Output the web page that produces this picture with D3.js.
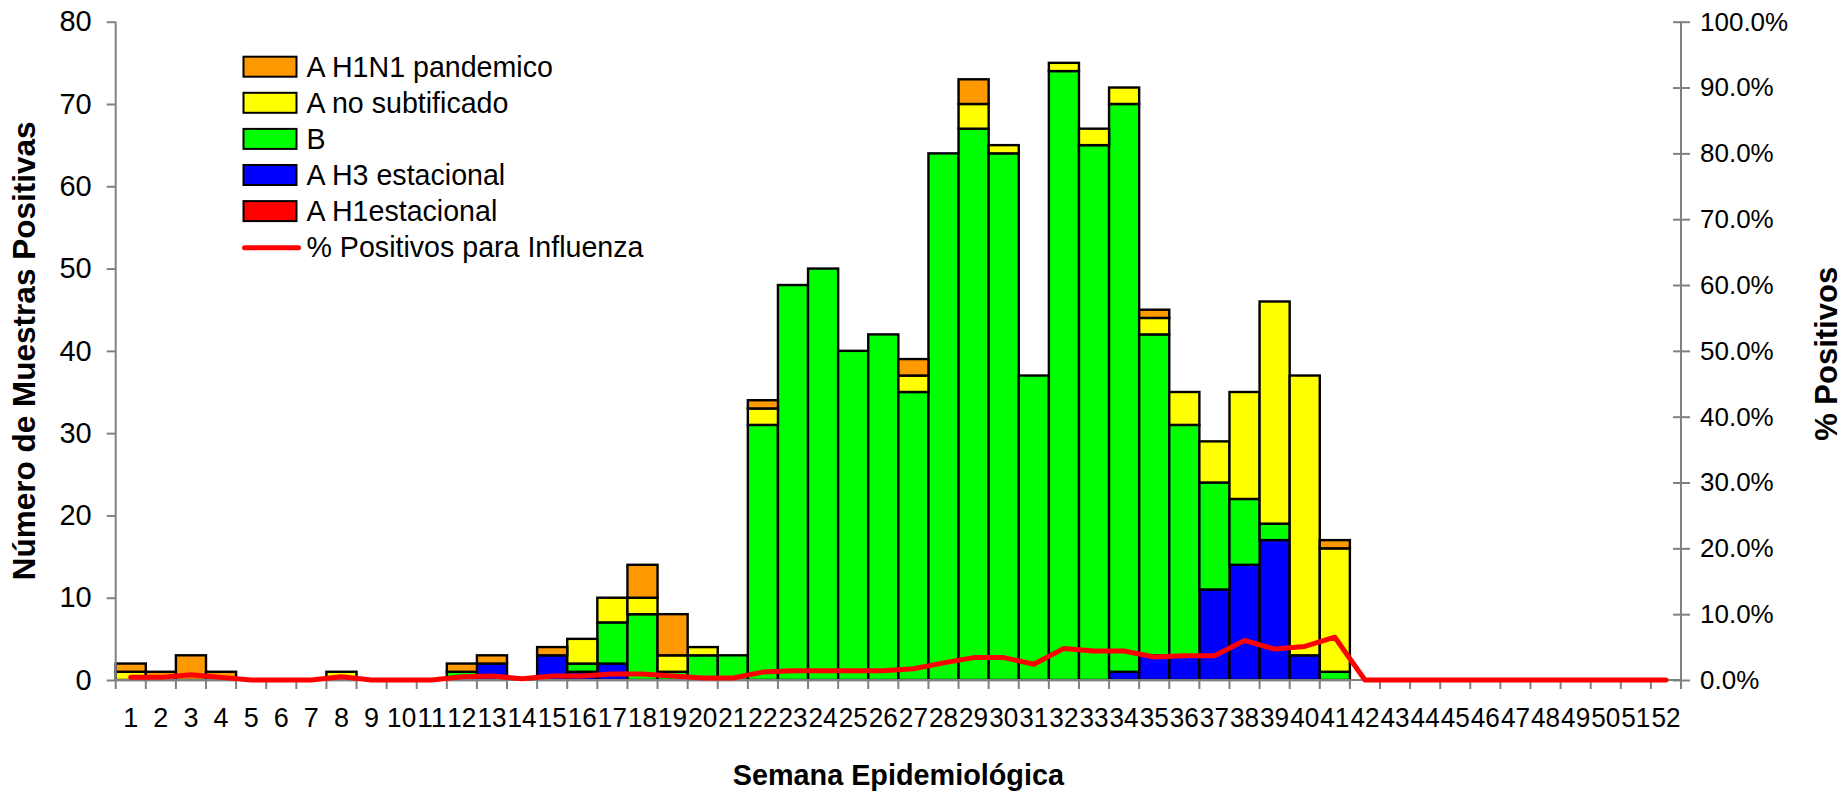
<!DOCTYPE html>
<html>
<head>
<meta charset="utf-8">
<script src="https://cdn.jsdelivr.net/npm/d3@7"></script>
<style>
  html, body { margin: 0; padding: 0; background: #fff; }
  svg { display: block; font-family: "Liberation Sans", Arial, sans-serif; }
</style>
</head>
<body>
<svg id="chart" width="1845" height="793"></svg>
<script>
// ---- data ----
const weeks = d3.range(1, 53);
const seriesNames = ["A H1estacional", "A H3 estacional", "B", "A no subtificado", "A H1N1 pandemico"];
const seriesColors = ["#FF0000", "#0000FF", "#00FF00", "#FFFF00", "#FF9900"];

//                 1 2 3 4 5 6 7 8 9 10 11 12 13 14 15 16 17 18 19 20 21 22 23 24 25 26 27 28 29 30 31 32 33 34 35 36 37 38 39 40 41 42..52
const aH1est    = [0,0,0,0,0,0,0,0,0,0, 0, 0, 0, 0, 0, 0, 0, 0, 0, 0, 0, 0, 0, 0, 0, 0, 0, 0, 0, 0, 0, 0, 0, 0, 0, 0, 0, 0, 0, 0, 0, 0,0,0,0,0,0,0,0,0,0,0];
const aH3       = [0,0,0,0,0,0,0,0,0,0, 0, 0, 2, 0, 3, 1, 2, 0, 0, 0, 0, 0, 0, 0, 0, 0, 0, 0, 0, 0, 0, 0, 0, 1, 3, 3,11,14,17, 3, 0, 0,0,0,0,0,0,0,0,0,0,0];
const bVals     = [0,0,0,0,0,0,0,0,0,0, 0, 1, 0, 0, 0, 1, 5, 8, 1, 3, 3,31,48,50,40,42,35,64,67,64,37,74,65,69,39,28,13, 8, 2, 0, 1, 0,0,0,0,0,0,0,0,0,0,0];
const aNoSub    = [1,0,0,0,0,0,0,1,0,0, 0, 0, 0, 0, 0, 3, 3, 2, 2, 1, 0, 2, 0, 0, 0, 0, 2, 0, 3, 1, 0, 1, 2, 2, 2, 4, 5,13,27,34,15, 0,0,0,0,0,0,0,0,0,0,0];
const aH1N1pand = [1,1,3,1,0,0,0,0,0,0, 0, 1, 1, 0, 1, 0, 0, 4, 5, 0, 0, 1, 0, 0, 0, 0, 2, 0, 3, 0, 0, 0, 0, 0, 1, 0, 0, 0, 0, 0, 1, 0,0,0,0,0,0,0,0,0,0,0];
const pctPositive = [0.4,0.4,0.8,0.4,0,0,0,0.5,0,0, 0,0.5,0.6,0.2,0.6,0.6,0.9,0.9,0.6,0.3, 0.3,1.2,1.4,1.4,1.4,1.4,1.7,2.6,3.4,3.4, 2.4,4.8,4.4,4.4,3.5,3.7,3.7,6.0,4.7,5.1, 6.5,0,0,0,0,0,0,0,0,0,0,0];

const leftTicks = d3.range(0, 81, 10);
const rightTicks = d3.range(0, 101, 10);

// ---- layout ----
const svg = d3.select("#chart");
const plotLeft = 115.7, plotRight = 1681, plotTop = 21.7, plotBottom = 680;

const x = d3.scaleBand().domain(weeks).range([plotLeft, plotRight]).padding(0);
const y = d3.scaleLinear().domain([0, 80]).range([plotBottom, plotTop]);
const y2 = d3.scaleLinear().domain([0, 100]).range([plotBottom, plotTop]);

const table = weeks.map((w, i) => ({
  week: w,
  "A H1estacional": aH1est[i],
  "A H3 estacional": aH3[i],
  "B": bVals[i],
  "A no subtificado": aNoSub[i],
  "A H1N1 pandemico": aH1N1pand[i]
}));
const stacked = d3.stack().keys(seriesNames)(table);

const axisColor = "#808080";

// bars
const gBars = svg.append("g");
stacked.forEach((layer, li) => {
  gBars.append("g")
    .attr("fill", seriesColors[li])
    .attr("stroke", "#000")
    .attr("stroke-width", 2.4)
    .selectAll("rect")
    .data(layer.filter(d => d[1] - d[0] > 0))
    .join("rect")
    .attr("x", d => x(d.data.week))
    .attr("width", x.bandwidth())
    .attr("y", d => y(d[1]))
    .attr("height", d => y(d[0]) - y(d[1]));
});

// left axis
const gL = svg.append("g").attr("transform", `translate(${plotLeft},0)`)
  .call(d3.axisLeft(y).tickValues(leftTicks).tickSize(9).tickPadding(15).tickFormat(d3.format("d")));
gL.select(".domain").attr("stroke", axisColor).attr("stroke-width", 2).attr("d", `M0,${plotTop}V${plotBottom}`);
gL.selectAll(".tick line").attr("stroke", axisColor).attr("stroke-width", 2);
gL.selectAll(".tick text").attr("font-size", 29).attr("fill", "#000")
  .attr("font-family", "'Liberation Sans', Arial, sans-serif");

// right axis
const gR = svg.append("g").attr("transform", `translate(${plotRight},0)`)
  .call(d3.axisRight(y2).tickValues(rightTicks).tickSize(9).tickPadding(10).tickFormat(d => d.toFixed(1) + "%"));
gR.select(".domain").attr("stroke", axisColor).attr("stroke-width", 2).attr("d", `M0,${plotTop}V${plotBottom}`);
gR.selectAll(".tick line").attr("stroke", axisColor).attr("stroke-width", 2).attr("x1", -8);
gR.selectAll(".tick text").attr("font-size", 26).attr("fill", "#000")
  .attr("font-family", "'Liberation Sans', Arial, sans-serif");

// bottom axis: labels at category centres, ticks at category boundaries
const gB = svg.append("g").attr("transform", `translate(0,${plotBottom})`)
  .call(d3.axisBottom(x).tickSize(0).tickPadding(28));
gB.select(".domain").attr("stroke", axisColor).attr("stroke-width", 2).attr("d", `M${plotLeft},0H${plotRight}`);
gB.selectAll(".tick text").attr("font-size", 27).attr("fill", "#000")
  .attr("font-family", "'Liberation Sans', Arial, sans-serif")
  .attr("textLength", d => d >= 10 ? x.bandwidth() - 1 : null)
  .attr("lengthAdjust", "spacingAndGlyphs");
const boundaries = weeks.map(w => x(w)).concat([x(weeks[weeks.length - 1]) + x.bandwidth()]);
gB.append("g").selectAll("line").data(boundaries).join("line")
  .attr("x1", d => d).attr("x2", d => d).attr("y1", 0).attr("y2", 9)
  .attr("stroke", axisColor).attr("stroke-width", 2);

// percent line
const line = d3.line()
  .x((d, i) => x(weeks[i]) + x.bandwidth() / 2)
  .y(d => y2(d));
svg.append("path").datum(pctPositive)
  .attr("d", line)
  .attr("fill", "none")
  .attr("stroke", "#FF0000")
  .attr("stroke-width", 5)
  .attr("stroke-linejoin", "round")
  .attr("stroke-linecap", "round");

// titles
svg.append("text")
  .attr("transform", `translate(35,${(plotTop + plotBottom) / 2}) rotate(-90)`)
  .attr("text-anchor", "middle").attr("font-weight", "bold").attr("font-size", 31.5)
  .text("Número de Muestras Positivas");
svg.append("text")
  .attr("transform", `translate(1837,${(plotTop + plotBottom) / 2 + 3}) rotate(-90)`)
  .attr("text-anchor", "middle").attr("font-weight", "bold").attr("font-size", 31)
  .text("% Positivos");
svg.append("text")
  .attr("x", (plotLeft + plotRight) / 2).attr("y", 785)
  .attr("text-anchor", "middle").attr("font-weight", "bold").attr("font-size", 28.8)
  .text("Semana Epidemiológica");

// legend (top of list = top of stack)
const legendItems = seriesNames.map((n, i) => ({ name: n, color: seriesColors[i] })).reverse();
const gLeg = svg.append("g").attr("transform", "translate(243.5,56.7)");
const rowH = 36.1;
legendItems.forEach((it, i) => {
  gLeg.append("rect").attr("x", 0).attr("y", i * rowH).attr("width", 53).attr("height", 20)
    .attr("fill", it.color).attr("stroke", "#000").attr("stroke-width", 2);
  gLeg.append("text").attr("x", 63).attr("y", i * rowH + 10).attr("dy", "0.36em")
    .attr("font-size", 28.6).text(it.name);
});
const li = legendItems.length;
gLeg.append("line").attr("x1", 1).attr("x2", 55).attr("y1", li * rowH + 10.5).attr("y2", li * rowH + 10.5)
  .attr("stroke", "#FF0000").attr("stroke-width", 5).attr("stroke-linecap", "round");
gLeg.append("text").attr("x", 63).attr("y", li * rowH + 10).attr("dy", "0.36em")
  .attr("font-size", 28.6).text("% Positivos para Influenza");
</script>
</body>
</html>
